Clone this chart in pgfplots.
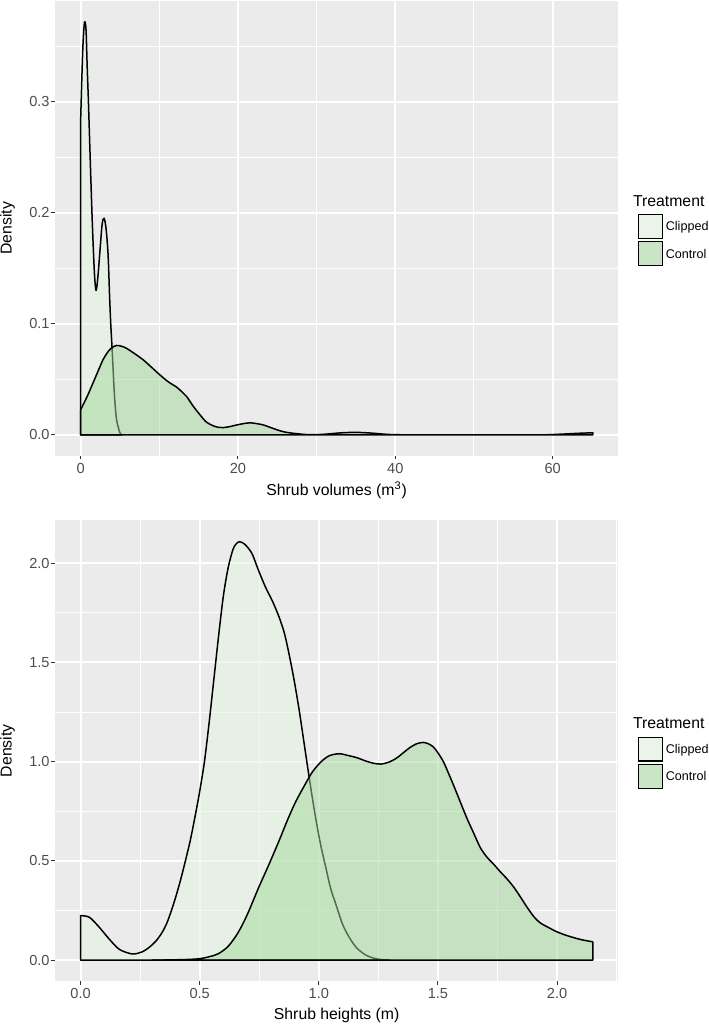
\documentclass[border=0pt]{standalone}
\usepackage{fontspec}
\setmainfont{Liberation Sans}
\usepackage{pgfplots}
\pgfplotsset{compat=1.18}

\definecolor{bggrey}{HTML}{EBEBEB}
\definecolor{clipfill}{HTML}{E5F5E0}
\definecolor{ctrlfill}{HTML}{A1D99B}
\definecolor{keyclip}{HTML}{EBF4E9}
\definecolor{keyctrl}{HTML}{C9E5C6}
\definecolor{tickgrey}{HTML}{333333}
\definecolor{labgrey}{HTML}{4D4D4D}

\pgfplotsset{
  ggpanel/.style={
    scale only axis, width=282pt, anchor=south west,
    axis background/.style={fill=bggrey},
    axis line style={draw=none},
    grid=both,
    major grid style={white, line width=1pt},
    minor grid style={white, line width=0.5pt},
    tick align=outside, tick pos=left,
    major tick length=1.8pt, minor tick length=0pt,
    every tick/.style={tickgrey, line width=0.5pt},
    /pgf/number format/assume math mode=true,
    tick label style={font=\fontsize{7.3}{8}\selectfont, text=labgrey},
    xticklabel style={inner sep=1.7pt},
    yticklabel style={inner sep=0.7pt, /pgf/number format/.cd, fixed, fixed zerofill, precision=1},
    label style={font=\fontsize{7.9}{9}\selectfont, black, inner sep=0pt},
    ylabel=Density,
    ylabel style={at={(axis description cs:-0.0842,0.5)}, anchor=center},
    legend style={draw=none, fill=none, inner sep=0pt, outer sep=0pt,
      nodes={inner sep=0pt, text depth=0pt, font=\fontsize{6.3}{7}\selectfont},
      row sep=1.25pt, column sep=1.5pt, cells={anchor=west}, anchor=north west},
    legend image code/.code={\draw[#1] (0pt,-5.875pt) rectangle (12pt,5.875pt);},
  },
  clipped/.style={fill=clipfill, fill opacity=0.5, draw=black, line width=0.75pt, line join=round, smooth, forget plot},
  control/.style={fill=ctrlfill, fill opacity=0.5, draw=black, line width=0.75pt, line join=round, smooth, forget plot},
}

\begin{document}
\begin{tikzpicture}
\path (0pt,0pt) rectangle (354.5pt,512.5pt);

% top panel: shrub volumes
\begin{axis}[ggpanel,
  at={(27.5pt,285pt)}, height=227.5pt,
  xmin=-3.255, xmax=68.355, ymin=-0.0186, ymax=0.3906,
  xtick={0,20,40,60}, minor xtick={10,30,50},
  ytick={0,0.1,0.2,0.3}, minor ytick={0.05,0.15,0.25,0.35},
  xlabel={Shrub volumes (m\textsuperscript{3})},
  xlabel style={at={(axis description cs:0.5,-0.0769)}, anchor=center},
  legend style={at={(axis description cs:1.0342,0.5312)}},
]
\addplot[clipped] table {
x y
0 0.280
0.15 0.318
0.3 0.350
0.45 0.368
0.55 0.372
0.7 0.364
0.85 0.330
1.0 0.300
1.26 0.241
1.5 0.190
1.76 0.146
1.97 0.130
2.2 0.142
2.47 0.166
2.75 0.190
3.0 0.195
3.25 0.185
3.5 0.162
3.7 0.123
3.85 0.098
4.0 0.079
4.2 0.050
4.35 0.031
4.55 0.015
4.77 0.0075
5.0 0.002
5.2 0
} \closedcycle;
\addplot[control] table {
x y
0 0.0225
0.8 0.034
1.57 0.0465
2.2 0.057
2.85 0.0676
3.4 0.074
3.91 0.0781
4.55 0.0805
5.2 0.0798
5.83 0.078
6.9 0.073
7.96 0.0676
9.0 0.061
10.09 0.054
11.2 0.0475
12.21 0.043
13.0 0.038
13.49 0.0345
14.3 0.026
15.19 0.018
16.0 0.0115
16.89 0.0081
17.6 0.0067
18.17 0.0066
19.0 0.0075
19.87 0.009
21.0 0.0105
21.7 0.0108
22.5 0.0100
23.3 0.0088
25.0 0.0045
26.0 0.0025
27.0 0.0015
28.5 0.0004
29.6 0.0002
31.0 0.0006
33.0 0.0018
35.0 0.0023
37.0 0.0016
38.5 0.0007
39.4 0.0003
41 0.0001
45 0
50 0
55 0
58.5 0
60 0.0003
61.5 0.0008
62.3 0.0011
63.5 0.0015
65.1 0.0019
} \closedcycle;
\addlegendimage{fill=keyclip, draw=black, line width=0.6pt}
\addlegendentry{Clipped}
\addlegendimage{fill=keyctrl, draw=black, line width=0.6pt}
\addlegendentry{Control}
\end{axis}
\node[anchor=west, inner sep=0pt, font=\fontsize{7.9}{9}\selectfont] at (316.65pt,412.5pt) {Treatment};

% bottom panel: shrub heights
\begin{axis}[ggpanel,
  at={(27.5pt,22pt)}, height=230.5pt,
  xmin=-0.1075, xmax=2.2575, ymin=-0.1055, ymax=2.2155,
  xtick={0,0.5,1,1.5,2}, minor xtick={0.25,0.75,1.25,1.75,2.25},
  ytick={0,0.5,1,1.5,2}, minor ytick={0.25,0.75,1.25,1.75},
  xticklabel style={/pgf/number format/.cd, fixed, fixed zerofill, precision=1},
  xlabel={Shrub heights (m)},
  xlabel style={at={(axis description cs:0.5,-0.0738)}, anchor=center},
  legend style={at={(axis description cs:1.0342,0.5302)}},
]
\addplot[clipped] table {
x y
0 0.224
0.037 0.216
0.079 0.165
0.121 0.105
0.163 0.054
0.212 0.032
0.24 0.034
0.26 0.042
0.29 0.066
0.317 0.097
0.34 0.135
0.36 0.18
0.38 0.245
0.40 0.32
0.42 0.405
0.44 0.50
0.46 0.60
0.48 0.72
0.50 0.85
0.52 1.00
0.54 1.20
0.56 1.42
0.58 1.64
0.60 1.84
0.62 1.98
0.64 2.07
0.655 2.10
0.669 2.108
0.69 2.095
0.719 2.05
0.745 1.97
0.775 1.883
0.805 1.81
0.832 1.733
0.855 1.65
0.874 1.549
0.895 1.42
0.917 1.265
0.935 1.12
0.952 0.982
0.97 0.84
0.987 0.715
1.008 0.58
1.03 0.464
1.05 0.36
1.072 0.28
1.099 0.183
1.128 0.114
1.16 0.06
1.198 0.025
1.23 0.01
1.26 0.003
1.30 0
} \closedcycle;
\addplot[control] table {
x y
0.30 0
0.35 0.0005
0.444 0.003
0.5 0.007
0.54 0.017
0.578 0.032
0.62 0.07
0.662 0.14
0.70 0.23
0.747 0.364
0.79 0.48
0.832 0.598
0.87 0.71
0.903 0.798
0.94 0.88
0.973 0.948
1.01 1.0
1.044 1.03
1.086 1.04
1.127 1.03
1.16 1.02
1.198 1.003
1.23 0.992
1.261 0.988
1.295 0.998
1.325 1.017
1.355 1.045
1.381 1.07
1.41 1.09
1.438 1.097
1.46 1.09
1.48 1.075
1.50 1.045
1.523 1.0
1.545 0.94
1.565 0.883
1.593 0.80
1.621 0.717
1.65 0.64
1.678 0.567
1.705 0.52
1.734 0.483
1.762 0.445
1.791 0.408
1.82 0.365
1.847 0.317
1.875 0.265
1.904 0.217
1.93 0.187
1.96 0.167
1.995 0.145
2.031 0.128
2.065 0.115
2.102 0.103
2.15 0.092
} \closedcycle;
\addlegendimage{fill=keyclip, draw=black, line width=0.6pt}
\addlegendentry{Clipped}
\addlegendimage{fill=keyctrl, draw=black, line width=0.6pt}
\addlegendentry{Control}
\end{axis}
\node[anchor=west, inner sep=0pt, font=\fontsize{7.9}{9}\selectfont] at (316.65pt,150.85pt) {Treatment};
\end{tikzpicture}
\end{document}
